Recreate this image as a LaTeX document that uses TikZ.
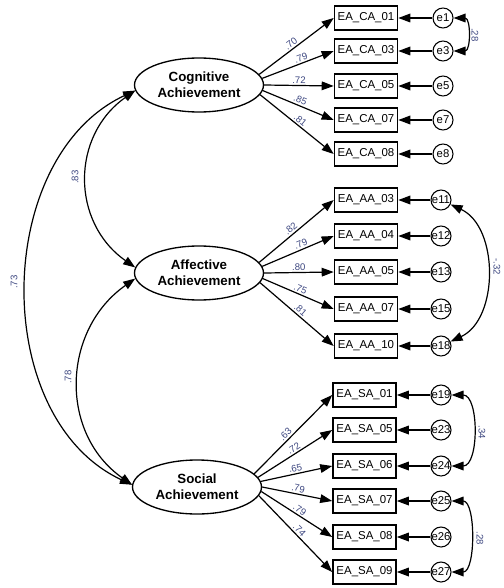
\documentclass[tikz,border=0pt]{standalone}
\usepackage{fontspec}
\setmainfont{Liberation Sans}
\usetikzlibrary{shapes.geometric,arrows.meta}
\definecolor{coefblue}{rgb}{0.24,0.28,0.50}
\tikzset{
  latent/.style={ellipse,draw,line width=1pt,minimum width=96.75pt,minimum height=40.5pt,inner sep=0pt,align=center,font=\fontsize{10}{11.75}\selectfont\bfseries},
  item/.style={rectangle,draw,line width=1.2pt,minimum width=47.25pt,minimum height=18pt,inner sep=0pt,font=\fontsize{8.6}{10}\selectfont},
  err/.style={circle,draw,line width=0.8pt,minimum size=15pt,inner sep=-1.5pt,font=\fontsize{8.5}{10}\selectfont},
  load/.style={-{Triangle[length=9pt,width=6.5pt]},line width=0.9pt},
  cov/.style={{Triangle[length=9pt,width=6.5pt]}-{Triangle[length=9pt,width=6.5pt]},line width=0.9pt},
  coef/.style={font=\fontsize{7.2}{8}\selectfont,text=coefblue,inner sep=1.2pt}
}
\begin{document}
\begin{tikzpicture}[x=0.75pt,y=0.75pt]
\useasboundingbox (0,0) rectangle (503,-588);
\node[latent] (cog) at (199,-85) {Cognitive\\Achievement};
\node[latent] (aff) at (199,-273) {Affective\\Achievement};
\node[latent] (soc) at (197,-487) {Social\\Achievement};

\node[item] (ca01) at (366,-18) {EA\_CA\_01};
\node[item] (ca03) at (366,-51) {EA\_CA\_03};
\node[item] (ca05) at (366,-86) {EA\_CA\_05};
\node[item] (ca07) at (366,-120) {EA\_CA\_07};
\node[item] (ca08) at (366,-154) {EA\_CA\_08};
\node[err] (e1) at (443,-18) {e1};
\node[err] (e3) at (443,-51) {e3};
\node[err] (e5) at (443,-86) {e5};
\node[err] (e7) at (443,-120) {e7};
\node[err] (e8) at (443,-154) {e8};

\node[item] (aa03) at (366,-200) {EA\_AA\_03};
\node[item] (aa04) at (366,-236) {EA\_AA\_04};
\node[item] (aa05) at (366,-272) {EA\_AA\_05};
\node[item] (aa07) at (366,-309) {EA\_AA\_07};
\node[item] (aa10) at (366,-346) {EA\_AA\_10};
\node[err] (e11) at (441,-200) {e11};
\node[err] (e12) at (441,-236) {e12};
\node[err] (e13) at (441,-272) {e13};
\node[err] (e15) at (441,-309) {e15};
\node[err] (e18) at (441,-346) {e18};

\node[item] (sa01) at (364.5,-395) {EA\_SA\_01};
\node[item] (sa05) at (364.5,-430) {EA\_SA\_05};
\node[item] (sa06) at (364.5,-466) {EA\_SA\_06};
\node[item] (sa07) at (364.5,-501) {EA\_SA\_07};
\node[item] (sa08) at (364.5,-537) {EA\_SA\_08};
\node[item] (sa09) at (364.5,-572) {EA\_SA\_09};
\node[err] (e19) at (441,-395) {e19};
\node[err] (e23) at (441,-430) {e23};
\node[err] (e24) at (441,-466) {e24};
\node[err] (e25) at (441,-501) {e25};
\node[err] (e26) at (441,-537) {e26};
\node[err] (e27) at (441,-572) {e27};

\draw[load] (cog.10) -- node[coef,sloped,above,pos=.47] {.70} (ca01.west);
\draw[load] (cog.6) -- node[coef,sloped,above,pos=.57] {.79} (ca03.west);
\draw[load] (cog.0) -- node[coef,sloped,above] {.72} (ca05.west);
\draw[load] (cog.-5) -- node[coef,sloped,above] {.85} (ca07.west);
\draw[load] (cog.-9) -- node[coef,sloped,above] {.81} (ca08.west);

\draw[load] (aff.10) -- node[coef,sloped,above,pos=.47] {.82} (aa03.west);
\draw[load] (aff.6) -- node[coef,sloped,above,pos=.57] {.79} (aa04.west);
\draw[load] (aff.0) -- node[coef,sloped,above] {.80} (aa05.west);
\draw[load] (aff.-5) -- node[coef,sloped,above] {.75} (aa07.west);
\draw[load] (aff.-9) -- node[coef,sloped,above] {.81} (aa10.west);

\draw[load] (soc.13) -- node[coef,sloped,above,pos=.45] {.63} (sa01.west);
\draw[load] (soc.9) -- node[coef,sloped,above,pos=.52] {.72} (sa05.west);
\draw[load] (soc.5) -- node[coef,sloped,above] {.65} (sa06.west);
\draw[load] (soc.0) -- node[coef,sloped,above] {.79} (sa07.west);
\draw[load] (soc.-4) -- node[coef,sloped,above] {.79} (sa08.west);
\draw[load] (soc.-8) -- node[coef,sloped,above] {.74} (sa09.west);

\draw[load] (e1) -- (ca01);
\draw[load] (e3) -- (ca03);
\draw[load] (e5) -- (ca05);
\draw[load] (e7) -- (ca07);
\draw[load] (e8) -- (ca08);
\draw[load] (e11) -- (aa03);
\draw[load] (e12) -- (aa04);
\draw[load] (e13) -- (aa05);
\draw[load] (e15) -- (aa07);
\draw[load] (e18) -- (aa10);
\draw[load] (e19) -- (sa01);
\draw[load] (e23) -- (sa05);
\draw[load] (e24) -- (sa06);
\draw[load] (e25) -- (sa07);
\draw[load] (e26) -- (sa08);
\draw[load] (e27) -- (sa09);

\draw[cov] (cog.185) to[out=215,in=145,looseness=1.14] (aff.175);
\draw[cov] (aff.185) to[out=215,in=145,looseness=1.11] (soc.178);
\draw[cov] (cog.185) to[out=205,in=155,looseness=1.02] (soc.178);
\node[coef,rotate=90] (c83) at (75,-177) {.83};
\node[coef,rotate=90] (c78) at (68,-377) {.78};
\node[coef,rotate=90] (c73) at (14,-282) {.73};

\draw[cov] (e1) to[out=0,in=0,looseness=1.35] (e3);
\draw[cov] (e11) to[out=-25,in=25,looseness=1.0] (e18);
\draw[cov] (e19) to[out=0,in=0,looseness=1.0] (e24);
\draw[cov] (e25) to[out=0,in=0,looseness=0.88] (e27);
\node[coef,rotate=-90] (c28a) at (475,-35) {.28};
\node[coef,rotate=-90] (c32) at (497,-267) {-.32};
\node[coef,rotate=-90] (c34) at (482,-432) {.34};
\node[coef,rotate=-90] (c28b) at (480,-538) {.28};
\end{tikzpicture}
\end{document}
